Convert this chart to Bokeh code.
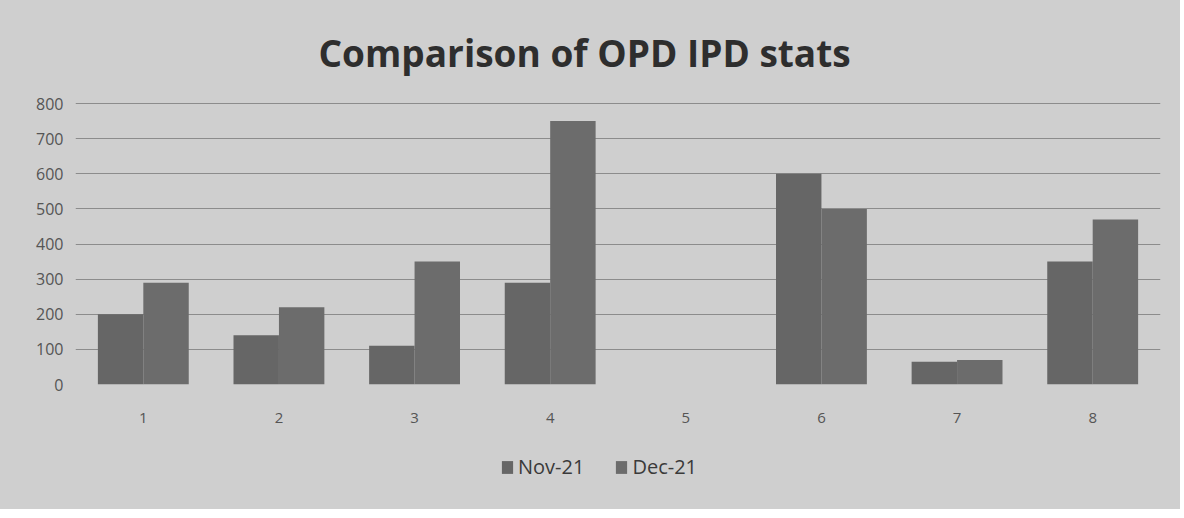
from bokeh.plotting import figure
from bokeh.layouts import column
from bokeh.models import ColumnDataSource, FactorRange, Legend, LegendItem, SingleIntervalTicker
from bokeh.transform import dodge
from bokeh.embed import file_html
from bokeh.resources import INLINE

categories = ["1", "2", "3", "4", "5", "6", "7", "8"]
nov_21 = [200, 140, 110, 290, 0, 600, 65, 350]
dec_21 = [290, 220, 350, 750, 0, 500, 70, 470]
series_names = ["Nov-21", "Dec-21"]
series_colors = ["#666666", "#6c6c6c"]

src = ColumnDataSource(dict(cat=categories, nov=nov_21, dec=dec_21))

FONT = "Open Sans"
BG = "#cfcfcf"
p = figure(x_range=FactorRange(*categories), y_range=(0, 803),
           frame_width=1085, frame_height=282, output_backend="svg", toolbar_location=None,
           min_border_left=75, min_border_right=20, min_border_top=102, min_border_bottom=50)
p.x_range.range_padding = 0

p.background_fill_color = None
p.border_fill_color = None
p.outline_line_color = None

r1 = p.vbar(x=dodge("cat", -0.1675, range=p.x_range), top="nov", width=0.335,
            source=src, fill_color=series_colors[0], line_color=None)
r2 = p.vbar(x=dodge("cat", 0.1675, range=p.x_range), top="dec", width=0.335,
            source=src, fill_color=series_colors[1], line_color=None)

p.title.text = "Comparison of OPD IPD stats"
p.title.align = "left"
p.title.offset = 243
p.title.text_font = FONT
p.title.text_font_size = "37px"
p.title.text_font_style = "bold"
p.title.text_color = "#2e2e2e"
p.title.standoff = 49

p.yaxis.ticker = SingleIntervalTicker(interval=100)
p.yaxis.axis_line_color = None
p.yaxis.major_tick_line_color = None
p.yaxis.minor_tick_line_color = None
p.yaxis.major_label_text_font = FONT
p.yaxis.major_label_text_font_size = "16px"
p.yaxis.major_label_text_color = "#555555"
p.yaxis.major_label_standoff = 6

p.xaxis.axis_line_color = None
p.xaxis.major_tick_line_color = None
p.xaxis.minor_tick_line_color = None
p.xaxis.major_label_text_font = FONT
p.xaxis.major_label_text_font_size = "15px"
p.xaxis.major_label_text_color = "#555555"
p.xaxis.major_label_standoff = 22

p.xgrid.grid_line_color = None
p.ygrid.grid_line_color = "#8c8c8c"
p.ygrid.grid_line_width = 1.2

# legend strip underneath the chart
lf = figure(width=1180, height=75, output_backend="svg", toolbar_location=None,
            min_border_left=75, min_border_right=20, min_border_top=0, min_border_bottom=0,
            x_range=(0, 1), y_range=(0, 1))
lf.axis.visible = False
lf.grid.visible = False
lf.outline_line_color = None
lf.background_fill_color = None
lf.border_fill_color = None
placeholder = ColumnDataSource(dict(x=[0.5], top=[0]))
l1 = lf.vbar(x="x", top="top", width=0, source=placeholder, fill_color=series_colors[0], line_color=None)
l2 = lf.vbar(x="x", top="top", width=0, source=placeholder, fill_color=series_colors[1], line_color=None)
legend = Legend(items=[LegendItem(label=series_names[0], renderers=[l1]),
                       LegendItem(label=series_names[1], renderers=[l2])],
                orientation="horizontal", location=(425, 29),
                background_fill_alpha=0, border_line_color=None,
                label_text_font=FONT, label_text_font_size="20px",
                label_text_color="#3a3a3a", glyph_width=14, glyph_height=16,
                spacing=30, margin=0, padding=0, label_standoff=4)
lf.add_layout(legend, "center")

layout = column(p, lf, spacing=0, styles={"background-color": BG})
open("out.html", "w").write(file_html(layout, INLINE))
